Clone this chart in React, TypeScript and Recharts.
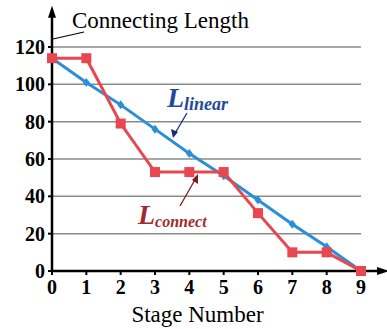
import { LineChart, Line, XAxis, YAxis, CartesianGrid, ReferenceLine, ReferenceDot } from "recharts";

const stages = [0, 1, 2, 3, 4, 5, 6, 7, 8, 9];
const linearLength = [114, 101, 89, 76, 63, 51, 38, 25, 13, 0];
const connectLength = [114, 114, 79, 53, 53, 53, 31, 10, 10, 0];
const yTicks = [0, 20, 40, 60, 80, 100, 120];

const data = stages.map((s, i) => ({
  stage: s,
  linear: linearLength[i],
  connect: connectLength[i],
}));

const serif = "Times New Roman, Liberation Serif, DejaVu Serif, serif";

const Diamond = (props: any) => {
  const { cx, cy } = props;
  if (cx == null || cy == null) return null;
  return <path d={`M${cx},${cy - 4.5}L${cx + 3.5},${cy}L${cx},${cy + 4.5}L${cx - 3.5},${cy}Z`} fill="#2a8fd8" />;
};

const Square = (props: any) => {
  const { cx, cy } = props;
  if (cx == null || cy == null) return null;
  return <rect x={cx - 5} y={cy - 5} width={10} height={10} fill="#e8474f" />;
};

const ArrowUp = (props: any) => {
  const { cx, cy } = props;
  return <path d={`M${cx},${cy - 4}L${cx + 4},${cy + 8}L${cx - 4},${cy + 8}Z`} fill="#000" />;
};

const ArrowRight = (props: any) => {
  const { cx, cy } = props;
  return <path d={`M${cx + 4},${cy}L${cx - 8},${cy + 4}L${cx - 8},${cy - 4}Z`} fill="#000" />;
};

// annotations are anchored on the point (0, 0), then offset in pixels
const Annotations = (props: any) => {
  const { cx, cy } = props;
  const ox = cx;
  const oy = cy;
  return (
    <g style={{ fontFamily: serif }}>
      <line x1={ox + 32} y1={oy - 239} x2={ox + 1} y2={oy - 232} stroke="#000" strokeWidth={1.2} />
      <text x={ox + 20} y={oy - 243} style={{ fontFamily: serif }} fontSize={23} fill="#000">
        Connecting Length
      </text>

      <text x={ox + 115} y={oy - 164} style={{ fontFamily: serif }} fontStyle="italic" fontWeight="bold" fill="#1f4a99">
        <tspan fontSize={28}>L</tspan>
        <tspan fontSize={18} dy={3}>linear</tspan>
      </text>
      <line x1={ox + 135} y1={oy - 158} x2={ox + 122} y2={oy - 136} stroke="#1f2a7a" strokeWidth={1.3} />
      <path d={`M${ox + 121},${oy - 133}L${ox + 119},${oy - 142}L${ox + 126},${oy - 139}Z`} fill="#1f2a7a" />

      <text x={ox + 86} y={oy - 47} style={{ fontFamily: serif }} fontStyle="italic" fontWeight="bold" fill="#a3282c">
        <tspan fontSize={28}>L</tspan>
        <tspan fontSize={16} dy={3}>connect</tspan>
      </text>
      <line x1={ox + 128} y1={oy - 65} x2={ox + 144} y2={oy - 93} stroke="#7a1c1c" strokeWidth={1.3} />
      <path d={`M${ox + 146},${oy - 97}L${ox + 146},${oy - 87}L${ox + 140},${oy - 91}Z`} fill="#7a1c1c" />
    </g>
  );
};

export default function App() {
  return (
    <div style={{ position: "absolute", left: 0, top: 0, background: "#fff", fontFamily: serif }}>
      <LineChart
        width={387}
        height={329}
        data={data}
        margin={{ top: 47, right: 26, left: 12, bottom: 0 }}
        style={{ fontFamily: serif }}
      >
        <CartesianGrid horizontal vertical={false} stroke="#8a8a8a" strokeWidth={1.5} />
        <XAxis
          dataKey="stage"
          type="number"
          domain={[0, 9]}
          ticks={stages}
          interval={0}
          height={58}
          stroke="#000"
          axisLine={{ stroke: "#000", strokeWidth: 2.5 }}
          tickLine={{ stroke: "#000", strokeWidth: 2 }}
          tickSize={4}
          tickMargin={5}
          tick={{ fill: "#000", fontSize: 20, fontWeight: "bold", style: { fontFamily: serif } }}
          label={{ value: "Stage Number", position: "insideBottom", offset: 7, dx: -9, fill: "#000", fontSize: 23, style: { fontFamily: serif } }}
        />
        <YAxis
          type="number"
          domain={[0, 120]}
          ticks={yTicks}
          interval={0}
          width={40}
          axisLine={{ stroke: "#000", strokeWidth: 2.5 }}
          tickLine={{ stroke: "#000", strokeWidth: 2 }}
          tickSize={4}
          tickMargin={3}
          tick={{ fill: "#000", fontSize: 20, fontWeight: "bold", style: { fontFamily: serif } }}
        />
        <ReferenceLine segment={[{ x: 0, y: 120 }, { x: 0, y: 138 }]} stroke="#000" strokeWidth={2.5} ifOverflow="visible" />
        <ReferenceDot x={0} y={140} ifOverflow="visible" shape={ArrowUp} />
        <ReferenceLine segment={[{ x: 9, y: 0 }, { x: 9.65, y: 0 }]} stroke="#000" strokeWidth={2.5} ifOverflow="visible" />
        <ReferenceDot x={9.7} y={0} ifOverflow="visible" shape={ArrowRight} />
        <Line
          dataKey="linear"
          stroke="#2a8fd8"
          strokeWidth={3}
          dot={Diamond}
          activeDot={false}
          isAnimationActive={false}
        />
        <Line
          dataKey="connect"
          stroke="#e8474f"
          strokeWidth={3}
          dot={Square}
          activeDot={false}
          isAnimationActive={false}
        />
        <ReferenceDot x={0} y={0} ifOverflow="visible" shape={Annotations} />
      </LineChart>
    </div>
  );
}
